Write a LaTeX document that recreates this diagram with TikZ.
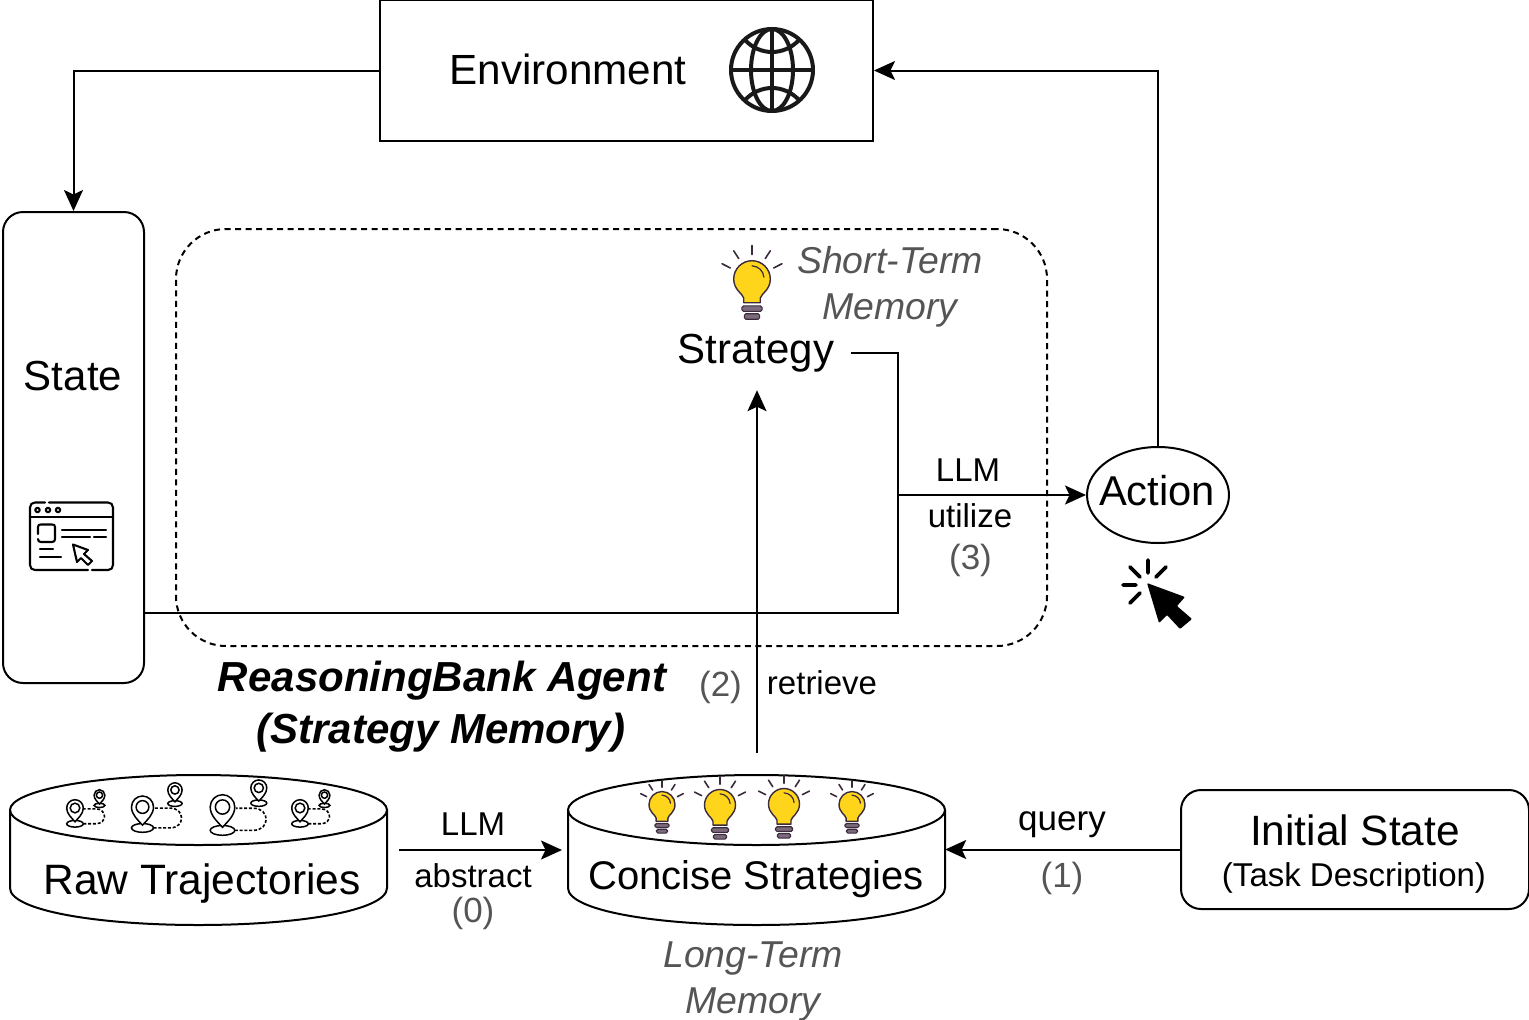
\documentclass[tikz,border=0pt]{standalone}
\usepackage{fontspec}
\setmainfont{Liberation Sans}
\usetikzlibrary{arrows.meta,shapes.geometric}
\definecolor{bulbY}{HTML}{FFD51C}
\definecolor{bulbD}{HTML}{3A2A3C}
\definecolor{bulbG}{HTML}{7A6A7C}
\definecolor{softgray}{HTML}{555555}
\newcommand{\pinshape}{%
  \draw[fill=white] (0,1.9) ellipse [x radius=1,y radius=.4];
  \draw[fill=white] (0,1.65) .. controls (-.4,1.2) and (-1,.7) .. (-1,0) .. controls (-1,-.55) and (-.55,-1) .. (0,-1) .. controls (.55,-1) and (1,-.55) .. (1,0) .. controls (1,.7) and (.4,1.2) .. (0,1.65) -- cycle;
  \draw (0,0) circle [radius=.58];
}
\tikzset{
  lnk/.style={line width=2pt},
  arr/.style={line width=2pt,-{Stealth[length=21pt,width=19pt,inset=4.5pt]}},
  box/.style={draw,line width=2pt,inner sep=0pt},
  lab/.style={inner sep=0pt,font=\fontsize{#1}{#1}\selectfont},
  glab/.style={inner sep=0pt,text=softgray,font=\fontsize{#1}{#1}\selectfont},
  itlab/.style={inner sep=0pt,text=softgray,font=\fontsize{#1}{#1}\selectfont\itshape},
  dbbody/.style={line width=2pt},
  bulb/.pic={
    \draw[bulbD,line width=1.6pt,line cap=round] (0,-1.33)--(0,-1.84) (.725,-1.115)--(1,-1.54) (-.725,-1.115)--(-1,-1.54) (1.185,-.604)--(1.64,-.835) (-1.185,-.604)--(-1.64,-.835);
    \draw[bulbD,fill=bulbY,line width=1.4pt,line join=round] (-.45,1.3) -- (-.45,1.05) .. controls (-.5,.8) and (-1,.6) .. (-1,0) .. controls (-1,-.55) and (-.55,-1) .. (0,-1) .. controls (.55,-1) and (1,-.55) .. (1,0) .. controls (1,.6) and (.5,.8) .. (.45,1.05) -- (.45,1.3) -- cycle;
    \draw[bulbD,line width=1.2pt,line cap=round] (0,-.72) .. controls (.35,-.7) and (.62,-.45) .. (.65,-.1);
    \draw[bulbD,fill=bulbG,line width=1.1pt,rounded corners=1.5pt] (-.55,1.47) rectangle (.55,1.77);
    \draw[bulbD,fill=bulbG,line width=1.1pt,rounded corners=1.5pt] (-.42,1.9) rectangle (.42,2.2);
  },
  trajpin/.pic={
    \draw[line width=1.6pt,dash pattern=on 3pt off 1.8pt] (1,1.9) -- (2.5,1.9) .. controls (3.9,1.9) and (3.9,.1) .. (2.5,.1) -- (1.1,.1);
    \begin{scope}[line width=1.5pt]\pinshape\end{scope}
    \begin{scope}[line width=1.5pt,shift={(2.95,-1.55)},scale=.65]\pinshape\end{scope}
  },
}
\begin{document}
\begin{tikzpicture}[x=1pt,y=-1pt]
\useasboundingbox (0,0) rectangle (1529,1020);

% dashed agent boundary
\node[draw,dash pattern=on 6pt off 4.5pt,line width=2pt,rounded corners=50pt,inner sep=0pt,minimum width=871pt,minimum height=417pt] (agent) at (611.5,437.5) {};

% main boxes
\node[box,minimum width=493pt,minimum height=141pt] (env) at (626.5,70.5) {};
\node[lab=42.2,anchor=center] (envtext) at (568,69.5) {Environment};
\node[box,rounded corners=20pt,minimum width=141pt,minimum height=471pt] (state) at (73.5,447.5) {};
\node[lab=42] (statetext) at (73,376) {State};
\node[box,ellipse,minimum width=142pt,minimum height=96pt] (action) at (1158,495) {};
\node[lab=41.7] (actiontext) at (1157,491) {Action};
\node[box,rounded corners=20pt,minimum width=348pt,minimum height=119pt] (init) at (1355,849.5) {};
\node[lab=42.4] (inittext) at (1355,830) {Initial State};
\node[lab=33] (inittask) at (1354,878) {(Task Description)};

% strategy
\node[lab=42,minimum width=188pt,minimum height=74pt] (strategy) at (757,353) {};
\node[lab=42] (strategytext) at (756,353.5) {Strategy};
\pic[scale=18.3] at (752,279) {bulb};
\node[itlab=37.4] (stm1) at (890,260) {Short-Term};
\node[itlab=37.4] (stm2) at (890,311) {Memory};

% cylinders
\node[minimum width=377pt,minimum height=150pt,inner sep=0pt] (raw) at (198.5,850) {};
\draw[dbbody] (10,810) -- (10,888) .. controls (10,910) and (95,925) .. (198.5,925) .. controls (302,925) and (387,910) .. (387,888) -- (387,810);
\draw[dbbody] (198.5,810) ellipse [x radius=188.5,y radius=35];
\node[lab=42.5] (rawtext) at (202,884) {Raw Trajectories};
\node[minimum width=377pt,minimum height=150pt,inner sep=0pt] (conc) at (756.5,850) {};
\draw[dbbody] (568,810) -- (568,888) .. controls (568,910) and (653,925) .. (756.5,925) .. controls (860,925) and (945,910) .. (945,888) -- (945,810);
\draw[dbbody] (756.5,810) ellipse [x radius=188.5,y radius=35];
\node[lab=40] (conctext) at (756,879.5) {Concise Strategies};

% cylinder contents
\pic[scale=8.3] at (75,808) {trajpin};
\pic[scale=11] at (142.5,807) {trajpin};
\pic[scale=12.3] at (222.5,807) {trajpin};
\pic[scale=8.3] at (300,808) {trajpin};
\pic[scale=13] at (662,804.5) {bulb};
\pic[scale=15.5] at (720,805) {bulb};
\pic[scale=15.5] at (784,804) {bulb};
\pic[scale=13] at (852,804.5) {bulb};

% coordinates for free ends
\coordinate (rawout) at (399,850);
\coordinate (concin) at (562,850);
\coordinate (retrfrom) at (757,753);
\coordinate (join) at (898,495);

% connectors
\draw[arr] (env.west) -| (state.north);
\draw[arr] (action.north) |- (env.east);
\draw[lnk] (state.east |- 0,612.5) -| (join);
\draw[lnk] (strategy.east) -| (join);
\draw[arr] (join) -- (action.west);
\draw[arr] (retrfrom) -- (strategy.south);
\draw[arr] (rawout) -- (concin);
\draw[arr] (init.west) -- (init.west -| conc.east);

% labels
\node[lab=33] (l1) at (968,470) {LLM};
\node[lab=33] (l2) at (970,516) {utilize};
\node[glab=35] (l3) at (970.5,560) {(3)};
\node[glab=35] (l4) at (720.5,687) {(2)};
\node[lab=33] (l5) at (822,683) {retrieve};
\node[lab=33] (l6) at (473,824) {LLM};
\node[lab=33] (l7) at (473,876) {abstract};
\node[glab=35] (l8) at (473,913) {(0)};
\node[lab=35] (l9) at (1062,825) {query};
\node[glab=35] (l10) at (1062,878) {(1)};
\node[inner sep=0pt,font=\fontsize{42}{42}\selectfont\bfseries\itshape] (t1) at (442,681) {ReasoningBank Agent};
\node[inner sep=0pt,font=\fontsize{42}{42}\selectfont\bfseries\itshape] (t2) at (441,733) {(Strategy Memory)};
\node[itlab=37.4] (ltm1) at (753,959) {Long-Term};
\node[itlab=37.4] (ltm2) at (753,1005) {Memory};

% globe
\begin{scope}[line width=4pt,color=black!90]
\draw (772,70) circle [radius=41];
\draw (772,70) ellipse [x radius=21,y radius=41];
\draw (772,29) -- (772,111);
\draw (731,70) -- (813,70);
\draw (745,40) .. controls (760,56) and (784,56) .. (799,40);
\draw (745,100) .. controls (760,84) and (784,84) .. (799,100);
\end{scope}

% browser icon
\begin{scope}[line width=2.1pt,line cap=round,line join=round]
\draw (45,502.5) -- (35,502.5) .. controls (32,502.5) and (30,504.5) .. (30,507.5) -- (30,565) .. controls (30,568) and (32,570) .. (35,570) -- (88,570);
\draw (49,502.5) -- (108,502.5) .. controls (111,502.5) and (113,504.5) .. (113,507.5) -- (113,565) .. controls (113,568) and (111,570) .. (108,570) -- (92,570);
\draw (30,517) -- (113,517);
\draw (37.5,510) circle [radius=2.2];
\draw (48,510) circle [radius=2.2];
\draw (58,510) circle [radius=2.2];
\draw (38,534) -- (38,527) .. controls (38,525) and (39,524.5) .. (41,524.5) -- (52,524.5) .. controls (54,524.5) and (55,525) .. (55,527) -- (55,539) .. controls (55,541) and (54,542) .. (52,542) -- (41,542) .. controls (39,542) and (38,541) .. (38,539);
\draw (62,530) -- (106,530);
\draw (62,537) -- (90,537);
\draw (94,537) -- (106,537);
\draw (40,549) -- (53,549);
\draw (40,557) -- (61,557);
\draw (73,544.5) -- (88,550) -- (84,554) -- (92,561) -- (88,565) -- (81,558) -- (77,562) -- cycle;
\end{scope}

% click icon
\fill[black,rounded corners=1pt] (1147,583) -- (1185,597) -- (1177,606) -- (1192,619) -- (1180,629) -- (1167,615) -- (1159,623) -- cycle;
\draw[line width=3.6pt,line cap=round] (1148,560) -- (1148,573) (1130,567) -- (1140,577) (1166,567) -- (1156,577) (1123,585) -- (1136,585) (1130,603) -- (1140,593);
\end{tikzpicture}
\end{document}
